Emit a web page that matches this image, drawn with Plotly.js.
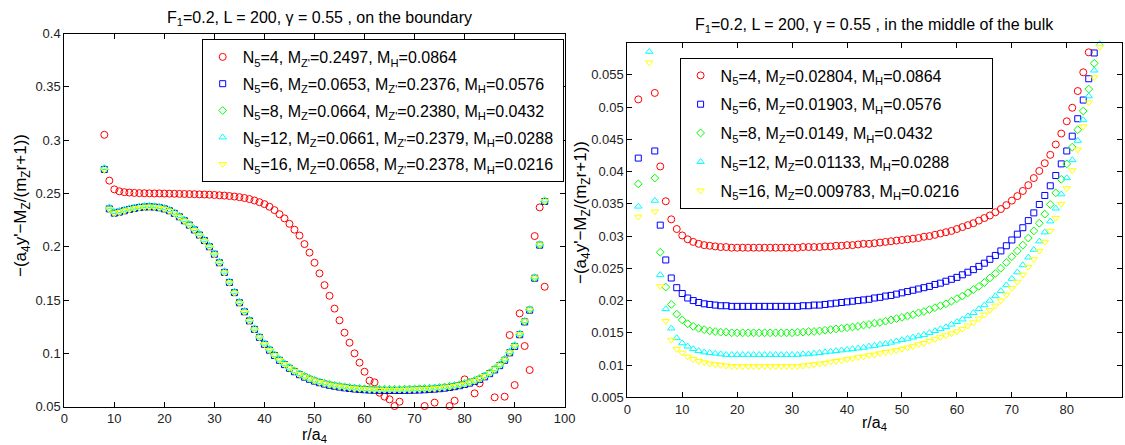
<!DOCTYPE html>
<html><head><meta charset="utf-8">
<script src="https://cdn.plot.ly/plotly-3.0.1.min.js"></script>
<style>html,body{margin:0;padding:0;background:#fff}#chart{width:1125px;height:445px}</style>
</head><body><div id="chart"></div>
<script>
// ---------- helpers ----------
function seq(a, b) { const o = []; for (let i = a; i <= b; i++) o.push(i); return o; }

// ---------- LEFT PANEL: on the boundary ----------
const leftNames = [
  'N<sub>5</sub>=4, M<sub>Z\'</sub>=0.2497, M<sub>H</sub>=0.0864',
  'N<sub>5</sub>=6, M<sub>Z</sub>=0.0653, M<sub>Z\'</sub>=0.2376, M<sub>H</sub>=0.0576',
  'N<sub>5</sub>=8, M<sub>Z</sub>=0.0664, M<sub>Z\'</sub>=0.2380, M<sub>H</sub>=0.0432',
  'N<sub>5</sub>=12, M<sub>Z</sub>=0.0661, M<sub>Z\'</sub>=0.2379, M<sub>H</sub>=0.0288',
  'N<sub>5</sub>=16, M<sub>Z</sub>=0.0658, M<sub>Z\'</sub>=0.2378, M<sub>H</sub>=0.0216'
];
const leftRedX = seq(8, 67).concat([72, 74, 77, 78, 80, 82, 83, 86, 88, 89, 90, 91, 92, 93, 94, 95, 96]);
const leftRed = [
  0.305, 0.262, 0.2538, 0.252, 0.2512, 0.2508, 0.2505, 0.2503, 0.2502, 0.2501,
  0.25, 0.25, 0.2499, 0.2498, 0.2497, 0.2496, 0.2495, 0.2494, 0.2493, 0.2491,
  0.249, 0.2488, 0.2486, 0.2483, 0.248, 0.2476, 0.2471, 0.2465, 0.2457, 0.2447,
  0.2434, 0.2418, 0.2400, 0.2375, 0.2344, 0.2305, 0.2266, 0.2215, 0.2160, 0.2105,
  0.2025, 0.1945, 0.1850, 0.1750, 0.1640, 0.1540, 0.1420, 0.1310, 0.1194, 0.1100,
  0.1000, 0.0913, 0.0828, 0.0744, 0.0728, 0.0631, 0.0594, 0.0569, 0.0506, 0.0547,
  0.0506, 0.0538, 0.0506, 0.0556, 0.0756, 0.0625, 0.0719, 0.0588, 0.0594, 0.1172,
  0.0703, 0.1375, 0.1069, 0.0844, 0.2100, 0.2369, 0.1625
];
const leftX = seq(8, 96);
const leftBlue = [
  0.2725,0.2355,0.2315,0.2325,0.2338,0.2350,0.2360,0.2368,0.2373,0.2375,
  0.2372,0.2366,0.2355,0.2338,0.2313,0.2281,0.2244,0.2203,0.2158,0.2110,
  0.2058,0.2000,0.1930,0.1850,0.1760,0.1665,0.1570,0.1475,0.1390,0.1305,
  0.1225,0.1150,0.1085,0.1030,0.0980,0.0935,0.0895,0.0860,0.0828,0.0800,
  0.0777,0.0757,0.0740,0.0725,0.0712,0.0701,0.0692,0.0684,0.0677,0.0671,
  0.0666,0.0662,0.0659,0.0656,0.0654,0.0653,0.0652,0.0652,0.0652,0.0652,
  0.0653,0.0654,0.0655,0.0657,0.0659,0.0662,0.0665,0.0669,0.0674,0.0680,
  0.0688,0.0697,0.0708,0.0721,0.0737,0.0756,0.0780,0.0810,0.0845,0.0885,
  0.0935,0.1005,0.1065,0.1175,0.1295,0.1405,0.1705,0.2015,0.2425
];
const leftGreen = [
  0.2728,0.2362,0.2318,0.2328,0.2341,0.2353,0.2363,0.2371,0.2376,0.2378,
  0.2375,0.2369,0.2358,0.2341,0.2316,0.2284,0.2247,0.2206,0.2162,0.2114,
  0.2062,0.2004,0.1934,0.1854,0.1764,0.1669,0.1574,0.1479,0.1394,0.1309,
  0.1229,0.1155,0.1090,0.1036,0.0986,0.0941,0.0902,0.0867,0.0835,0.0808,
  0.0785,0.0765,0.0748,0.0733,0.0721,0.0710,0.0701,0.0693,0.0686,0.0680,
  0.0675,0.0671,0.0668,0.0666,0.0665,0.0664,0.0664,0.0664,0.0664,0.0664,
  0.0665,0.0666,0.0667,0.0669,0.0671,0.0673,0.0676,0.0680,0.0685,0.0691,
  0.0698,0.0707,0.0718,0.0731,0.0746,0.0765,0.0789,0.0818,0.0853,0.0893,
  0.0943,0.1011,0.1072,0.1181,0.1300,0.1410,0.1708,0.2018,0.2428
];
const leftCyan = [
  0.2740,0.2372,0.2328,0.2336,0.2348,0.2360,0.2369,0.2377,0.2382,0.2384,
  0.2381,0.2375,0.2364,0.2347,0.2322,0.2290,0.2253,0.2212,0.2167,0.2119,
  0.2066,0.2008,0.1938,0.1858,0.1768,0.1673,0.1578,0.1483,0.1398,0.1313,
  0.1233,0.1158,0.1093,0.1038,0.0988,0.0943,0.0903,0.0868,0.0836,0.0808,
  0.0785,0.0765,0.0747,0.0732,0.0720,0.0709,0.0700,0.0692,0.0685,0.0679,
  0.0674,0.0670,0.0667,0.0664,0.0662,0.0661,0.0661,0.0661,0.0661,0.0661,
  0.0662,0.0663,0.0664,0.0666,0.0668,0.0671,0.0674,0.0678,0.0683,0.0689,
  0.0697,0.0706,0.0717,0.0730,0.0746,0.0765,0.0789,0.0819,0.0854,0.0894,
  0.0944,0.1014,0.1074,0.1184,0.1304,0.1414,0.1714,0.2024,0.2436
];
const leftYellow = [
  0.2722,0.2350,0.2312,0.2322,0.2335,0.2347,0.2357,0.2365,0.2370,0.2372,
  0.2369,0.2363,0.2352,0.2335,0.2310,0.2278,0.2241,0.2200,0.2155,0.2106,
  0.2054,0.1996,0.1926,0.1846,0.1756,0.1661,0.1566,0.1472,0.1387,0.1302,
  0.1223,0.1149,0.1085,0.1031,0.0982,0.0938,0.0899,0.0864,0.0833,0.0806,
  0.0782,0.0762,0.0745,0.0730,0.0717,0.0706,0.0697,0.0689,0.0682,0.0676,
  0.0671,0.0667,0.0664,0.0661,0.0659,0.0658,0.0658,0.0658,0.0658,0.0658,
  0.0659,0.0660,0.0661,0.0663,0.0665,0.0668,0.0671,0.0675,0.0680,0.0686,
  0.0694,0.0703,0.0714,0.0727,0.0743,0.0762,0.0786,0.0816,0.0851,0.0891,
  0.0941,0.1010,0.1070,0.1180,0.1300,0.1410,0.1710,0.2020,0.2430
];
const leftXTicks = [0, 10, 20, 30, 40, 50, 60, 70, 80, 90, 100];
const leftYTicks = [0.05, 0.1, 0.15, 0.2, 0.25, 0.3, 0.35, 0.4];
const leftYTickText = ['0.05', '0.1', '0.15', '0.2', '0.25', '0.3', '0.35', '0.4'];

// ---------- RIGHT PANEL: in the middle of the bulk ----------
const rightNames = [
  'N<sub>5</sub>=4, M<sub>Z</sub>=0.02804, M<sub>H</sub>=0.0864',
  'N<sub>5</sub>=6, M<sub>Z</sub>=0.01903, M<sub>H</sub>=0.0576',
  'N<sub>5</sub>=8, M<sub>Z</sub>=0.0149, M<sub>H</sub>=0.0432',
  'N<sub>5</sub>=12, M<sub>Z</sub>=0.01133, M<sub>H</sub>=0.0288',
  'N<sub>5</sub>=16, M<sub>Z</sub>=0.009783, M<sub>H</sub>=0.0216'
];
const rightRedX = [2, 5, 6, 7, 8].concat(seq(9, 84));
const rightRed = [
  0.0512, 0.0522, 0.0408, 0.0354, 0.0326,
  0.0311,0.0301,0.0295,0.0291,0.0288,0.0286,0.0285,0.0284,0.0283,0.0283,
  0.0282,0.0282,0.0282,0.0282,0.0282,0.0282,0.0282,0.0282,0.0282,0.0282,
  0.0282,0.0282,0.0282,0.0283,0.0283,0.0283,0.0283,0.0284,0.0284,0.0285,
  0.0285,0.0286,0.0286,0.0287,0.0288,0.0288,0.0289,0.0290,0.0291,0.0292,
  0.0293,0.0294,0.0295,0.0296,0.0297,0.0299,0.0300,0.0302,0.0304,0.0306,
  0.0308,0.0311,0.0314,0.0317,0.0320,0.0324,0.0328,0.0332,0.0337,0.0342,
  0.0348,0.0355,0.0362,0.0370,0.0379,0.0390,0.0401,0.0413,0.0426,0.0442,
  0.0459,0.0478,0.0499,0.0525,0.0554,0.0585
];
const rightBlueX = [2, 5, 6, 7, 8].concat(seq(9, 85));
const rightBlue = [
  0.0421, 0.0432, 0.0317, 0.0263, 0.0235,
  0.0220,0.0211,0.0204,0.0200,0.0197,0.0195,0.0194,0.0193,0.0192,0.0192,
  0.0191,0.0191,0.0191,0.0191,0.0191,0.0191,0.0191,0.0191,0.0191,0.0191,
  0.0191,0.0191,0.0191,0.0192,0.0192,0.0193,0.0193,0.0194,0.0195,0.0196,
  0.0197,0.0198,0.0199,0.0200,0.0201,0.0202,0.0204,0.0205,0.0207,0.0208,
  0.0210,0.0212,0.0214,0.0216,0.0218,0.0220,0.0222,0.0225,0.0227,0.0230,
  0.0233,0.0236,0.0240,0.0244,0.0248,0.0253,0.0258,0.0264,0.0270,0.0277,
  0.0285,0.0294,0.0303,0.0313,0.0324,0.0336,0.0349,0.0363,0.0378,0.0394,
  0.0412,0.0432,0.0455,0.0482,0.0511,0.0544,0.0584
];
const rightGreenX = [2, 5, 6, 7, 8].concat(seq(9, 85));
const rightGreen = [
  0.0381, 0.0390, 0.0275, 0.0221, 0.0194,
  0.0179,0.0170,0.0164,0.0160,0.0157,0.0155,0.0153,0.0152,0.0151,0.0151,
  0.0150,0.0150,0.0150,0.0150,0.0150,0.0150,0.0150,0.0150,0.0150,0.0150,
  0.0150,0.0150,0.0151,0.0151,0.0152,0.0152,0.0153,0.0154,0.0155,0.0156,
  0.0157,0.0158,0.0159,0.0160,0.0162,0.0163,0.0165,0.0166,0.0168,0.0170,
  0.0172,0.0174,0.0176,0.0178,0.0181,0.0183,0.0186,0.0189,0.0192,0.0195,
  0.0199,0.0203,0.0207,0.0212,0.0217,0.0222,0.0228,0.0235,0.0242,0.0250,
  0.0259,0.0268,0.0277,0.0286,0.0297,0.0308,0.0320,0.0334,0.0349,0.0367,
  0.0388,0.0412,0.0438,0.0465,0.0494,0.0528,0.0568
];
const rightCyanX = [2, 4, 5, 6, 7, 8].concat(seq(9, 86));
const rightCyan = [
  0.0346, 0.0586, 0.0355, 0.0240, 0.0187, 0.0157,
  0.0142,0.0134,0.0129,0.0125,0.0122,0.0120,0.0119,0.0118,0.0117,0.0116,
  0.0116,0.0116,0.0116,0.0116,0.0116,0.0116,0.0116,0.0116,0.0116,0.0116,
  0.0116,0.0116,0.0116,0.0117,0.0117,0.0118,0.0119,0.0120,0.0121,0.0122,
  0.0123,0.0124,0.0125,0.0126,0.0127,0.0129,0.0130,0.0132,0.0133,0.0135,
  0.0137,0.0139,0.0141,0.0143,0.0145,0.0147,0.0150,0.0153,0.0156,0.0159,
  0.0163,0.0167,0.0171,0.0176,0.0181,0.0187,0.0193,0.0200,0.0207,0.0215,
  0.0224,0.0234,0.0244,0.0255,0.0267,0.0279,0.0292,0.0306,0.0323,0.0343,
  0.0365,0.0390,0.0418,0.0448,0.0480,0.0517,0.0557,0.0598
];
const rightYellowX = [2, 4, 5, 6, 7, 8].concat(seq(9, 86));
const rightYellow = [
  0.0330, 0.0569, 0.0338, 0.0222, 0.0168, 0.0139,
  0.0125,0.0119,0.0113,0.0109,0.0106,0.0104,0.0102,0.0101,0.0100,0.0099,
  0.0098,0.0098,0.0098,0.0098,0.0098,0.0098,0.0098,0.0098,0.0098,0.0098,
  0.0098,0.0098,0.0098,0.0099,0.0100,0.0101,0.0102,0.0103,0.0105,0.0106,
  0.0107,0.0109,0.0110,0.0112,0.0113,0.0115,0.0116,0.0118,0.0120,0.0121,
  0.0123,0.0125,0.0127,0.0129,0.0132,0.0134,0.0137,0.0140,0.0143,0.0146,
  0.0149,0.0152,0.0156,0.0161,0.0166,0.0172,0.0178,0.0185,0.0192,0.0200,
  0.0209,0.0219,0.0229,0.0240,0.0252,0.0264,0.0277,0.0291,0.0308,0.0328,
  0.0350,0.0374,0.0402,0.0434,0.0470,0.0507,0.0546,0.0593
];
const rightXTicks = [0, 10, 20, 30, 40, 50, 60, 70, 80, 90];
const rightYTicks = [0.005, 0.01, 0.015, 0.02, 0.025, 0.03, 0.035, 0.04, 0.045, 0.05, 0.055];
const rightYTickText = ['0.005', '0.01', '0.015', '0.02', '0.025', '0.03', '0.035', '0.04', '0.045', '0.05', '0.055'];

// ---------- style ----------
const FONT = 'Liberation Sans, Arial, Helvetica, sans-serif';
const colors = ['#ff0000', '#0000ff', '#00ff00', '#00ffff', '#ffff00'];
const symbols = ['circle-open', 'square-open', 'diamond-open', 'triangle-up-open', 'triangle-down-open'];
const sizes = [7, 6, 6, 6.5, 6.5];
const NB = '\u00a0';

function mk(x, y, i, name, xa, ya, leg, pad) {
  return {
    x: x, y: y, name: name + NB.repeat(pad), type: 'scatter', mode: 'markers',
    xaxis: xa, yaxis: ya, legend: leg, legendgroup: leg + '_' + i, cliponaxis: false,
    marker: { symbol: symbols[i], size: sizes[i], color: colors[i], line: { color: colors[i], width: 1 } },
    hoverinfo: 'x+y'
  };
}

const traces = [
  mk(leftRedX, leftRed, 0, leftNames[0], 'x', 'y', 'legend', 1),
  mk(leftX, leftBlue, 1, leftNames[1], 'x', 'y', 'legend', 1),
  mk(leftX, leftGreen, 2, leftNames[2], 'x', 'y', 'legend', 1),
  mk(leftX, leftCyan, 3, leftNames[3], 'x', 'y', 'legend', 1),
  mk(leftX, leftYellow, 4, leftNames[4], 'x', 'y', 'legend', 1),
  mk(rightRedX, rightRed, 0, rightNames[0], 'x2', 'y2', 'legend2', 6),
  mk(rightBlueX, rightBlue, 1, rightNames[1], 'x2', 'y2', 'legend2', 6),
  mk(rightGreenX, rightGreen, 2, rightNames[2], 'x2', 'y2', 'legend2', 6),
  mk(rightCyanX, rightCyan, 3, rightNames[3], 'x2', 'y2', 'legend2', 6),
  mk(rightYellowX, rightYellow, 4, rightNames[4], 'x2', 'y2', 'legend2', 6)
];

const axBase = {
  showline: true, linecolor: '#000', linewidth: 1, mirror: 'ticks',
  ticks: 'inside', ticklen: 5, tickwidth: 1, tickcolor: '#000',
  showgrid: false, zeroline: false, fixedrange: true,
  tickfont: { family: FONT, size: 13, color: '#222' }
};
const W = 1125, H = 445;
const px = v => v / W, py = v => 1 - v / H;

const legBase = {
  xanchor: 'left', yanchor: 'top', bgcolor: '#ffffff',
  bordercolor: '#000', borderwidth: 1,
  font: { family: FONT, size: 16, color: '#000' }
};
const TFONT = { family: FONT, size: 16, color: '#000' };
const XLFONT = { family: FONT, size: 16, color: '#000' };
const YLFONT = { family: FONT, size: 17, color: '#000' };

const layout = {
  width: W, height: H,
  margin: { l: 0, r: 0, t: 0, b: 0, pad: 0 },
  paper_bgcolor: '#fff', plot_bgcolor: '#fff',
  showlegend: true,
  font: { family: FONT, color: '#000' },
  xaxis: Object.assign({}, axBase, { domain: [px(64.3), px(564.7)], range: [0, 100], tickvals: leftXTicks, anchor: 'y' }),
  yaxis: Object.assign({}, axBase, { domain: [py(406.7), py(33.5)], range: [0.05, 0.4], tickvals: leftYTicks, ticktext: leftYTickText, anchor: 'x' }),
  xaxis2: Object.assign({}, axBase, { domain: [px(627.3), px(1121.7)], range: [0, 90], tickvals: rightXTicks, anchor: 'y2' }),
  yaxis2: Object.assign({}, axBase, { domain: [py(397.3), py(43.3)], range: [0.005, 0.0599], tickvals: rightYTicks, ticktext: rightYTickText, anchor: 'x2' }),
  legend: Object.assign({}, legBase, { x: px(201.7), y: py(39), tracegroupgap: 3 }),
  legend2: Object.assign({}, legBase, { x: px(679.6), y: py(57.5), tracegroupgap: 5 }),
  annotations: [
    { text: 'F<sub>1</sub>=0.2, L = 200, γ = 0.55 , on the boundary', xref: 'paper', yref: 'paper',
      x: px(319), y: py(18), xanchor: 'center', yanchor: 'middle', showarrow: false, font: TFONT },
    { text: 'F<sub>1</sub>=0.2, L = 200, γ = 0.55 , in the middle of the bulk', xref: 'paper', yref: 'paper',
      x: px(874.5), y: py(25), xanchor: 'center', yanchor: 'middle', showarrow: false, font: TFONT },
    { text: 'r/a<sub>4</sub>', xref: 'paper', yref: 'paper', x: px(314.5), y: py(435),
      xanchor: 'center', yanchor: 'middle', showarrow: false, font: XLFONT },
    { text: 'r/a<sub>4</sub>', xref: 'paper', yref: 'paper', x: px(874.5), y: py(423),
      xanchor: 'center', yanchor: 'middle', showarrow: false, font: XLFONT },
    { text: '−(a<sub>4</sub>y\'−M<sub>Z</sub>/(m<sub>Z</sub>r+1))', xref: 'paper', yref: 'paper', x: px(22), y: py(206),
      xanchor: 'center', yanchor: 'middle', textangle: -90, showarrow: false, font: YLFONT },
    { text: '−(a<sub>4</sub>y\'−M<sub>Z</sub>/(m<sub>Z</sub>r+1))', xref: 'paper', yref: 'paper', x: px(582), y: py(213),
      xanchor: 'center', yanchor: 'middle', textangle: -90, showarrow: false, font: YLFONT }
  ]
};

Plotly.newPlot('chart', traces, layout, { displayModeBar: false, staticPlot: true });
</script></body></html>
